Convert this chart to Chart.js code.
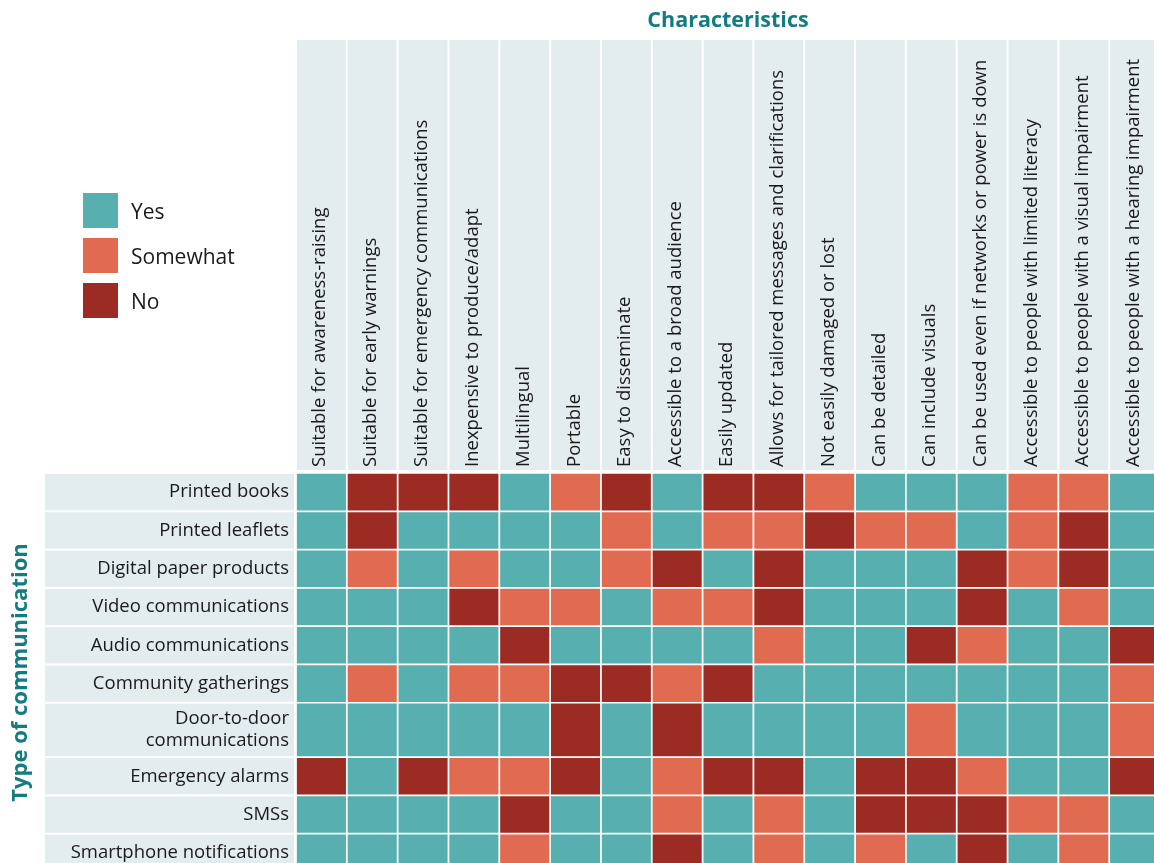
<!DOCTYPE html>
<html>
<head>
<meta charset="utf-8">
<script src="https://cdn.jsdelivr.net/npm/chart.js@4.4.1/dist/chart.umd.min.js"></script>
<style>
  html, body { margin: 0; padding: 0; overflow: hidden; background: #fff; }
  #grid { position: absolute; left: 0; top: 0; }
  .legend { position: absolute; left: 83px; top: 193px; font-family: "Open Sans", sans-serif; font-size: 21px; color: #1a1a1a; }
  .legend div { display: flex; align-items: center; height: 35px; margin-bottom: 10px; }
  .legend span { display: inline-block; width: 35px; height: 35px; margin-right: 13px; }
</style>
</head>
<body>
<canvas id="grid" width="1160" height="872"></canvas>
<div class="legend" id="legend"></div>
<script>
// Columns (characteristics)
const characteristics = [
  "Suitable for awareness-raising",
  "Suitable for early warnings",
  "Suitable for emergency communications",
  "Inexpensive to produce/adapt",
  "Multilingual",
  "Portable",
  "Easy to disseminate",
  "Accessible to a broad audience",
  "Easily updated",
  "Allows for tailored messages and clarifications",
  "Not easily damaged or lost",
  "Can be detailed",
  "Can include visuals",
  "Can be used even if networks or power is down",
  "Accessible to people with limited literacy",
  "Accessible to people with a visual impairment",
  "Accessible to people with a hearing impairment"
];

// Rows (type of communication); arrays are two-line labels
const communicationTypes = [
  "Printed books",
  "Printed leaflets",
  "Digital paper products",
  "Video communications",
  "Audio communications",
  "Community gatherings",
  ["Door-to-door", "communications"],
  "Emergency alarms",
  "SMSs",
  "Smartphone notifications"
];

const levels = ["Yes", "Somewhat", "No"];
const levelColors = ["#57afaf", "#e06b50", "#9c2c23"];

// Y = yes, S = somewhat, N = no (one string per row, one letter per characteristic)
const ratings = [
  "YNNNYSNYNNSYYYSSY",
  "YNYYYYSYSSNSSYSNY",
  "YSYSYYSNYNYYYNSNY",
  "YYYNSSYSSNYYYNYSY",
  "YYYYNYYYYSYYNSYYN",
  "YSYSSNNSNYYYYYYYS",
  "YYYYYNYNYYYYSYYYS",
  "NYNSSNYSNNYNNSYYN",
  "YYYYNYYSYSYNNNSSY",
  "YYYYSYYNYSYSYNYSY"
];

// row extents on the y scale: two-line rows are taller
const rowSpans = [];
let acc = 0;
communicationTypes.forEach(lbl => {
  const h = Array.isArray(lbl) ? 1.42 : 1;
  rowSpans.push([acc, acc + h]);
  acc += h;
});
const yMax = acc;
const rowCenters = rowSpans.map(s => (s[0] + s[1]) / 2);

const codes = ["Y", "S", "N"];
const datasets = levels.map((lvl, li) => {
  const pts = [];
  ratings.forEach((row, r) => {
    row.split("").forEach((c, ci) => {
      if (c === codes[li]) pts.push({ x: characteristics[ci], y: rowSpans[r] });
    });
  });
  return {
    label: lvl,
    data: pts,
    backgroundColor: levelColors[li],
    borderColor: "#ffffff",
    borderWidth: 1.2,
    borderSkipped: false,
    grouped: false,
    categoryPercentage: 1,
    barPercentage: 1
  };
});

// light grey header / label cells, painted before the axes
const headerCells = {
  id: "headerCells",
  beforeDraw(chart) {
    const { ctx, scales: { x, y }, chartArea } = chart;
    const colW = (chartArea.right - chartArea.left) / characteristics.length;
    ctx.save();
    ctx.fillStyle = "#e3ecee";
    characteristics.forEach((c, i) => {
      const cx = x.getPixelForValue(i);
      ctx.fillRect(cx - colW / 2 + 1, 40, colW - 2, chartArea.top - 43);
    });
    rowSpans.forEach(s => {
      const t = y.getPixelForValue(s[0]);
      const b = y.getPixelForValue(s[1]);
      ctx.fillRect(45, t + 1, chartArea.left - 47, b - t - 2);
    });
    ctx.restore();
  }
};

const teal = "#127c80";

new Chart(document.getElementById("grid"), {
  type: "bar",
  data: { labels: characteristics, datasets },
  options: {
    responsive: false,
    animation: false,
    layout: { padding: 0 },
    plugins: {
      legend: { display: false },
      tooltip: { enabled: false }
    },
    scales: {
      x: {
        position: "top",
        grid: { display: false, drawTicks: false },
        border: { display: false },
        ticks: {
          autoSkip: false,
          minRotation: 90,
          maxRotation: 90,
          padding: 6,
          labelOffset: 21,
          color: "#1a1a1a",
          font: { family: "Open Sans", size: 18.5 }
        },
        title: {
          display: true,
          text: "Characteristics",
          color: teal,
          font: { family: "Open Sans", size: 21.5, weight: "bold" },
          padding: { top: 8, bottom: 0 }
        },
        afterFit: axis => { axis.height = 473; }
      },
      y: {
        type: "linear",
        reverse: true,
        min: 0,
        max: yMax,
        grid: { display: false, drawTicks: false },
        border: { display: false },
        afterBuildTicks: axis => { axis.ticks = rowCenters.map(v => ({ value: v })); },
        ticks: {
          autoSkip: false,
          padding: 7,
          color: "#1a1a1a",
          font: { family: "Open Sans", size: 18.5 },
          callback: v => communicationTypes[rowCenters.indexOf(v)]
        },
        title: {
          display: true,
          text: "Type of communication",
          color: teal,
          font: { family: "Open Sans", size: 22, weight: "bold" },
          padding: { top: 8, bottom: 0 }
        },
        afterFit: axis => {
          axis.width = 296;
          axis.paddingTop = 0;
          axis.paddingBottom = 0;
        }
      }
    }
  },
  plugins: [headerCells]
});

// legend
const legendEl = document.getElementById("legend");
levels.forEach((lvl, i) => {
  const row = document.createElement("div");
  row.innerHTML = '<span style="background:' + levelColors[i] + '"></span>' + lvl;
  legendEl.appendChild(row);
});
</script>
</body>
</html>
